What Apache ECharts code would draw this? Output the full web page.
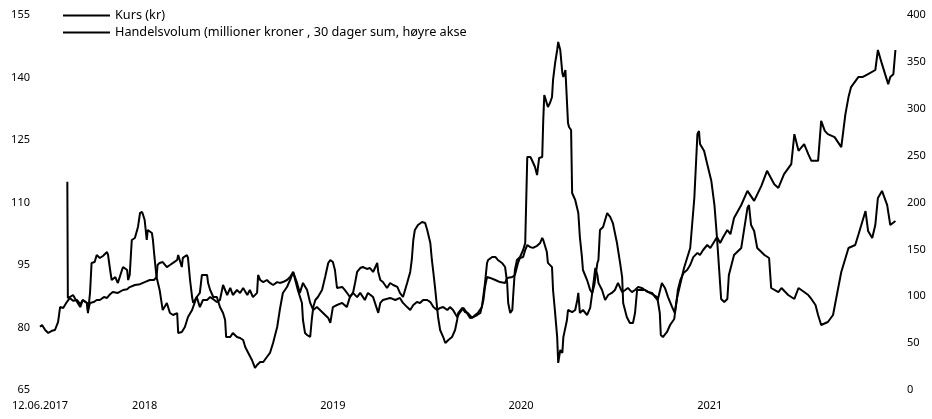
<!DOCTYPE html>
<html>
<head>
<meta charset="utf-8">
<script src="https://cdn.jsdelivr.net/npm/echarts@6/dist/echarts.min.js"></script>
<style>
html,body{margin:0;padding:0;background:#fff;}
#chart{width:932px;height:419px;}
</style>
</head>
<body>
<div id="chart"></div>
<script>
// ---- data ----
const seriesNames = ['Kurs (kr)', 'Handelsvolum (millioner kroner , 30 dager sum, høyre akse'];
const xStart = '2017-06-12';
const xEnd = '2022-01-01';
const xTickDates = ['2017-06-12', '2018-01-01', '2019-01-01', '2020-01-01', '2021-01-01'];
const xTickLabels = ['12.06.2017', '2018', '2019', '2020', '2021'];
const leftTicks = [65, 80, 95, 110, 125, 140, 155];
const rightTicks = [0, 50, 100, 150, 200, 250, 300, 350, 400];

// Kurs (kr), left axis
const kurs = [
['2017-06-12',80.2],['2017-06-16',80.6],['2017-06-22',79.4],['2017-06-28',78.7],['2017-07-05',79.2],['2017-07-11',79.4],['2017-07-17',81.3],['2017-07-21',84.9],['2017-07-27',84.7],['2017-08-03',86.1],['2017-08-09',87.1],['2017-08-15',86.4],['2017-08-23',86.6],['2017-08-29',85.6],['2017-09-03',86.6],['2017-09-11',85.9],['2017-09-13',84.0],['2017-09-17',85.9],['2017-09-24',86.1],['2017-09-30',86.6],['2017-10-06',86.6],['2017-10-14',87.3],['2017-10-20',87.1],['2017-10-26',88.0],['2017-10-31',88.5],['2017-11-10',88.3],['2017-11-20',89.0],['2017-11-28',89.2],['2017-12-03',89.7],['2017-12-13',90.2],['2017-12-23',90.4],['2018-01-01',90.9],['2018-01-11',91.4],['2018-01-19',91.4],['2018-01-24',92.1],['2018-01-26',95.0],['2018-01-30',95.5],['2018-02-05',95.7],['2018-02-13',94.5],['2018-02-19',95.0],['2018-02-25',95.5],['2018-03-05',96.2],['2018-03-07',97.4],['2018-03-14',94.5],['2018-03-16',96.7],['2018-03-24',97.4],['2018-03-26',96.7],['2018-03-30',91.4],['2018-04-03',87.3],['2018-04-05',85.9],['2018-04-12',87.3],['2018-04-18',84.9],['2018-04-24',86.6],['2018-05-02',86.6],['2018-05-08',87.3],['2018-05-14',86.8],['2018-05-21',86.1],['2018-05-27',86.6],['2018-05-31',89.0],['2018-06-02',90.2],['2018-06-10',87.8],['2018-06-16',89.5],['2018-06-21',87.8],['2018-06-29',89.0],['2018-07-05',88.3],['2018-07-11',89.5],['2018-07-19',87.8],['2018-07-24',89.0],['2018-07-30',87.3],['2018-08-07',88.3],['2018-08-09',92.6],['2018-08-13',91.4],['2018-08-19',90.9],['2018-08-26',91.4],['2018-09-01',90.7],['2018-09-07',90.2],['2018-09-15',90.9],['2018-09-20',90.7],['2018-09-26',90.9],['2018-10-04',91.4],['2018-10-10',92.1],['2018-10-16',93.3],['2018-10-23',90.9],['2018-10-29',88.3],['2018-11-04',90.7],['2018-11-12',89.0],['2018-11-18',85.9],['2018-11-24',84.2],['2018-12-01',84.9],['2018-12-07',84.2],['2018-12-13',83.5],['2018-12-23',82.3],['2018-12-27',81.1],['2019-01-01',84.9],['2019-01-09',85.4],['2019-01-19',85.9],['2019-01-28',84.9],['2019-02-03',87.3],['2019-02-09',88.3],['2019-02-17',87.3],['2019-02-23',88.3],['2019-03-04',86.6],['2019-03-10',88.3],['2019-03-20',87.3],['2019-03-30',83.5],['2019-04-03',85.9],['2019-04-08',86.6],['2019-04-22',87.1],['2019-05-02',86.6],['2019-05-11',87.1],['2019-05-17',85.9],['2019-05-25',84.9],['2019-05-31',84.2],['2019-06-06',85.4],['2019-06-13',86.1],['2019-06-19',85.9],['2019-06-25',86.6],['2019-07-03',86.6],['2019-07-09',86.1],['2019-07-15',84.9],['2019-07-22',84.2],['2019-07-28',84.7],['2019-08-03',84.9],['2019-08-11',84.2],['2019-08-16',84.9],['2019-08-22',84.2],['2019-08-30',82.5],['2019-09-05',83.7],['2019-09-11',84.7],['2019-09-18',83.5],['2019-09-24',82.3],['2019-09-30',82.5],['2019-10-08',83.0],['2019-10-14',83.5],['2019-10-20',86.6],['2019-10-23',89.7],['2019-10-27',92.1],['2019-11-02',91.9],['2019-11-12',91.4],['2019-11-21',90.9],['2019-12-01',90.7],['2019-12-05',91.9],['2019-12-15',92.1],['2019-12-20',92.6],['2019-12-26',95.5],['2019-12-30',96.7],['2020-01-05',96.9],['2020-01-09',98.6],['2020-01-13',99.8],['2020-01-19',99.3],['2020-01-24',99.1],['2020-02-01',99.6],['2020-02-07',100.3],['2020-02-11',101.5],['2020-02-13',101.0],['2020-02-20',98.1],['2020-02-22',95.5],['2020-03-01',94.5],['2020-03-03',89.0],['2020-03-07',83.5],['2020-03-11',77.7],['2020-03-13',71.5],['2020-03-17',74.6],['2020-03-21',73.9],['2020-03-23',77.7],['2020-03-30',81.8],['2020-04-01',84.2],['2020-04-09',83.7],['2020-04-15',84.2],['2020-04-19',86.6],['2020-04-21',88.3],['2020-04-24',83.5],['2020-04-30',84.2],['2020-05-08',83.0],['2020-05-14',84.7],['2020-05-18',88.3],['2020-05-24',94.3],['2020-05-28',92.6],['2020-05-30',90.7],['2020-06-06',89.0],['2020-06-12',86.6],['2020-06-18',87.8],['2020-06-25',88.3],['2020-07-01',89.0],['2020-07-07',90.7],['2020-07-15',88.5],['2020-07-21',89.0],['2020-07-26',89.5],['2020-08-03',88.5],['2020-08-09',89.0],['2020-08-15',89.7],['2020-08-22',89.5],['2020-08-28',89.0],['2020-09-03',88.5],['2020-09-11',88.3],['2020-09-17',87.3],['2020-09-22',86.6],['2020-09-30',90.7],['2020-10-06',89.5],['2020-10-12',87.3],['2020-10-20',84.9],['2020-10-25',83.5],['2020-10-29',86.6],['2020-10-31',89.0],['2020-11-05',91.4],['2020-11-11',93.1],['2020-11-18',93.8],['2020-11-24',95.0],['2020-11-30',96.9],['2020-12-08',97.9],['2020-12-13',97.4],['2020-12-19',98.6],['2020-12-27',99.8],['2021-01-02',99.1],['2021-01-08',100.3],['2021-01-15',101.7],['2021-01-21',100.3],['2021-01-27',101.7],['2021-02-04',103.4],['2021-02-10',102.4],['2021-02-17',106.3],['2021-03-03',109.4],['2021-03-15',112.8],['2021-03-28',110.4],['2021-04-11',114.0],['2021-04-22',117.6],['2021-05-06',114.4],['2021-05-14',113.5],['2021-05-25',116.8],['2021-06-08',119.2],['2021-06-14',126.4],['2021-06-22',122.4],['2021-07-03',124.0],['2021-07-11',121.6],['2021-07-17',120.0],['2021-07-30',120.0],['2021-08-05',129.6],['2021-08-12',127.2],['2021-08-18',126.4],['2021-08-31',125.7],['2021-09-13',123.3],['2021-09-21',131.2],['2021-09-27',135.3],['2021-10-02',137.7],['2021-10-16',140.1],['2021-10-24',140.1],['2021-11-04',140.8],['2021-11-18',141.8],['2021-11-23',146.6],['2021-12-01',143.2],['2021-12-07',140.8],['2021-12-13',138.4],['2021-12-17',140.1],['2021-12-23',140.8],['2021-12-27',146.6]
];

// Handelsvolum, 30-day sum, right axis
const volum = [
['2017-08-04',222.2],['2017-08-05',98.1],['2017-08-09',99.2],['2017-08-15',101.3],['2017-08-23',93.9],['2017-08-29',88.5],['2017-09-03',96.0],['2017-09-11',92.8],['2017-09-13',82.1],['2017-09-17',103.5],['2017-09-20',135.5],['2017-09-26',136.5],['2017-09-30',144.0],['2017-10-06',140.8],['2017-10-12',142.9],['2017-10-20',147.2],['2017-10-22',144.0],['2017-10-26',128.0],['2017-10-29',117.3],['2017-11-05',120.5],['2017-11-10',114.1],['2017-11-18',128.0],['2017-11-20',131.2],['2017-11-28',128.0],['2017-11-30',117.3],['2017-12-03',122.7],['2017-12-07',160.0],['2017-12-13',162.1],['2017-12-19',173.9],['2017-12-23',188.8],['2017-12-27',189.9],['2017-12-29',186.7],['2018-01-01',181.3],['2018-01-05',160.0],['2018-01-07',170.7],['2018-01-15',167.5],['2018-01-17',160.0],['2018-01-20',141.9],['2018-01-24',120.5],['2018-01-30',106.7],['2018-02-05',85.3],['2018-02-13',92.8],['2018-02-19',82.1],['2018-02-25',80.0],['2018-03-05',82.1],['2018-03-07',60.8],['2018-03-14',61.9],['2018-03-20',67.2],['2018-03-26',77.9],['2018-04-03',85.3],['2018-04-05',88.5],['2018-04-12',99.2],['2018-04-18',103.5],['2018-04-22',122.7],['2018-04-24',124.8],['2018-05-02',122.7],['2018-05-04',114.1],['2018-05-08',106.7],['2018-05-14',99.2],['2018-05-21',99.2],['2018-05-27',88.5],['2018-06-02',82.1],['2018-06-06',74.7],['2018-06-08',56.5],['2018-06-16',56.5],['2018-06-21',60.8],['2018-06-29',56.5],['2018-07-05',55.5],['2018-07-11',53.3],['2018-07-15',45.9],['2018-07-21',39.5],['2018-07-28',32.0],['2018-08-03',23.5],['2018-08-07',26.7],['2018-08-13',29.9],['2018-08-19',29.9],['2018-08-26',35.2],['2018-09-01',39.5],['2018-09-07',50.1],['2018-09-15',67.2],['2018-09-20',85.3],['2018-09-26',103.5],['2018-10-04',109.9],['2018-10-10',117.3],['2018-10-16',125.9],['2018-10-19',124.8],['2018-10-25',106.7],['2018-11-02',92.8],['2018-11-04',74.7],['2018-11-08',60.8],['2018-11-12',58.7],['2018-11-18',56.5],['2018-11-21',74.7],['2018-11-24',88.5],['2018-11-28',96.0],['2018-12-03',99.2],['2018-12-11',106.7],['2018-12-17',120.5],['2018-12-23',135.5],['2018-12-27',138.7],['2019-01-01',136.5],['2019-01-05',128.0],['2019-01-09',108.8],['2019-01-11',106.7],['2019-01-19',109.9],['2019-01-24',106.7],['2019-01-30',102.4],['2019-02-03',99.2],['2019-02-09',103.5],['2019-02-13',114.1],['2019-02-17',125.9],['2019-02-23',130.1],['2019-02-28',131.2],['2019-03-08',129.1],['2019-03-14',130.1],['2019-03-20',125.9],['2019-03-28',135.5],['2019-03-30',125.9],['2019-04-03',117.3],['2019-04-08',115.2],['2019-04-16',108.8],['2019-04-22',114.1],['2019-04-28',112.0],['2019-05-06',109.9],['2019-05-11',103.5],['2019-05-17',99.2],['2019-05-25',114.1],['2019-05-31',125.9],['2019-06-03',138.7],['2019-06-06',160.0],['2019-06-09',170.7],['2019-06-15',176.0],['2019-06-23',179.2],['2019-06-29',178.1],['2019-07-03',170.7],['2019-07-09',156.8],['2019-07-12',138.7],['2019-07-15',124.8],['2019-07-18',109.9],['2019-07-22',88.5],['2019-07-24',77.9],['2019-07-28',64.0],['2019-08-03',56.5],['2019-08-07',50.1],['2019-08-13',53.3],['2019-08-20',56.5],['2019-08-26',64.0],['2019-08-30',74.7],['2019-09-01',82.1],['2019-09-09',87.5],['2019-09-14',83.2],['2019-09-20',82.1],['2019-09-28',76.8],['2019-10-04',80.0],['2019-10-09',82.1],['2019-10-17',88.5],['2019-10-23',114.1],['2019-10-27',135.5],['2019-10-29',138.7],['2019-11-06',141.9],['2019-11-12',141.9],['2019-11-17',138.7],['2019-11-25',135.5],['2019-12-01',131.2],['2019-12-05',114.1],['2019-12-07',92.8],['2019-12-11',82.1],['2019-12-15',85.3],['2019-12-17',103.5],['2019-12-20',128.0],['2019-12-24',138.7],['2019-12-30',141.9],['2020-01-05',149.3],['2020-01-09',156.8],['2020-01-11',202.7],['2020-01-13',248.5],['2020-01-19',248.5],['2020-01-22',245.3],['2020-01-28',237.9],['2020-02-01',229.3],['2020-02-05',247.5],['2020-02-11',248.5],['2020-02-13',288.0],['2020-02-15',314.7],['2020-02-18',309.3],['2020-02-22',301.9],['2020-02-26',306.1],['2020-03-01',312.5],['2020-03-03',330.7],['2020-03-07',348.8],['2020-03-11',362.7],['2020-03-13',371.2],['2020-03-17',362.7],['2020-03-21',338.1],['2020-03-23',333.9],['2020-03-27',341.3],['2020-03-30',339.2],['2020-04-01',284.8],['2020-04-03',280.5],['2020-04-07',277.3],['2020-04-09',210.1],['2020-04-15',202.7],['2020-04-21',188.8],['2020-04-24',163.2],['2020-04-28',141.9],['2020-04-30',128.0],['2020-05-08',117.3],['2020-05-14',106.7],['2020-05-18',103.5],['2020-05-22',112.0],['2020-05-28',135.5],['2020-05-30',138.7],['2020-06-02',170.7],['2020-06-08',173.9],['2020-06-16',188.8],['2020-06-22',184.5],['2020-06-27',178.1],['2020-07-05',156.8],['2020-07-11',135.5],['2020-07-15',120.5],['2020-07-17',92.8],['2020-07-24',77.9],['2020-07-30',71.5],['2020-08-05',71.5],['2020-08-09',82.1],['2020-08-13',106.7],['2020-08-15',108.8],['2020-08-28',106.7],['2020-09-07',103.5],['2020-09-21',99.2],['2020-09-26',82.1],['2020-09-28',58.7],['2020-10-02',56.5],['2020-10-10',61.9],['2020-10-16',69.3],['2020-10-24',75.7],['2020-10-29',97.1],['2020-11-12',130.1],['2020-11-24',151.5],['2020-12-02',204.8],['2020-12-08',273.1],['2020-12-11',276.3],['2020-12-13',262.4],['2020-12-21',254.9],['2020-12-27',241.1],['2021-01-04',222.9],['2021-01-10',197.3],['2021-01-15',162.1],['2021-01-23',97.1],['2021-01-29',93.9],['2021-02-04',97.1],['2021-02-07',122.7],['2021-02-17',144.0],['2021-03-03',151.5],['2021-03-15',194.1],['2021-03-18',197.3],['2021-03-22',176.0],['2021-03-28',169.6],['2021-04-03',151.5],['2021-04-17',144.0],['2021-04-26',140.8],['2021-04-30',108.8],['2021-05-14',104.5],['2021-05-20',108.8],['2021-06-02',101.3],['2021-06-14',97.1],['2021-06-22',108.8],['2021-07-03',104.5],['2021-07-11',101.3],['2021-07-17',97.1],['2021-07-25',90.7],['2021-07-30',80.0],['2021-08-05',69.3],['2021-08-18',72.5],['2021-08-28',80.0],['2021-09-07',108.8],['2021-09-13',125.9],['2021-09-27',151.5],['2021-10-10',154.7],['2021-10-16',165.3],['2021-10-30',190.9],['2021-11-04',169.6],['2021-11-12',162.1],['2021-11-18',176.0],['2021-11-23',204.8],['2021-12-01',212.3],['2021-12-11',197.3],['2021-12-17',176.0],['2021-12-27',180.3]
];

// ---- chart ----
const FONT = 'Noto Sans, sans-serif';
const toTime = d => Date.UTC(+d.slice(0, 4), +d.slice(5, 7) - 1, +d.slice(8, 10));
const xTickValues = xTickDates.map(toTime);
function xLabel(v) {
  for (let i = 0; i < xTickValues.length; i++) {
    if (Math.abs(xTickValues[i] - v) < 43200000) return xTickLabels[i];
  }
  return '';
}
const toPoints = arr => arr.map(p => [toTime(p[0]), p[1]]);

const chart = echarts.init(document.getElementById('chart'), null, {renderer: 'canvas'});
chart.setOption({
  animation: false,
  backgroundColor: '#fff',
  grid: {left: 40, right: 34, top: 15, bottom: 29, containLabel: false},
  legend: {
    orient: 'vertical', left: 63, top: 9, padding: 0, itemWidth: 47, itemHeight: 2, itemGap: 4,
    icon: 'rect',
    textStyle: {color: '#000', fontSize: 12.7, fontFamily: FONT},
    data: seriesNames.map(n => ({name: n, itemStyle: {color: '#000'}}))
  },
  xAxis: {
    type: 'value', min: toTime(xStart), max: toTime(xEnd),
    axisLine: {show: false}, axisTick: {show: false}, splitLine: {show: false},
    axisLabel: {customValues: xTickValues, formatter: xLabel, color: '#000', fontSize: 11, fontFamily: FONT, margin: 10}
  },
  yAxis: [
    {type: 'value', min: 65, max: 155, position: 'left',
     axisLine: {show: false}, axisTick: {show: false}, splitLine: {show: false},
     axisLabel: {customValues: leftTicks, color: '#000', fontSize: 11, fontFamily: FONT, margin: 10}},
    {type: 'value', min: 0, max: 400, interval: 50, position: 'right',
     axisLine: {show: false}, axisTick: {show: false}, splitLine: {show: false},
     axisLabel: {color: '#000', fontSize: 11, fontFamily: FONT, margin: 9}}
  ],
  series: [
    {name: seriesNames[0], type: 'line', yAxisIndex: 0, data: toPoints(kurs), showSymbol: false, symbol: 'none',
     lineStyle: {color: '#000', width: 2}, itemStyle: {color: '#000'}},
    {name: seriesNames[1], type: 'line', yAxisIndex: 1, data: toPoints(volum), showSymbol: false, symbol: 'none',
     lineStyle: {color: '#000', width: 2}, itemStyle: {color: '#000'}}
  ]
});
</script>
</body>
</html>
